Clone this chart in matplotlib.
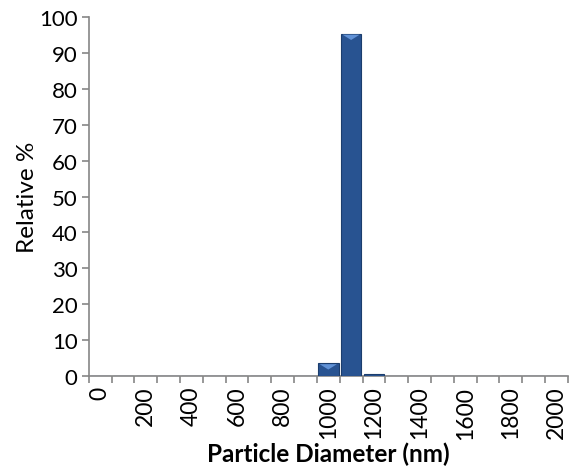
import numpy as np
import matplotlib
matplotlib.use("Agg")
from matplotlib import pyplot as plt

# particle size distribution (category axis 0..2000 nm, step 100)
diameters = list(range(0, 2001, 100))
relative = [0, 0, 0, 0, 0, 0, 0, 0, 0, 0, 3.6, 95.4, 0.5,
            0, 0, 0, 0, 0, 0, 0, 0]
tick_labels = [str(d) if d % 200 == 0 else '' for d in diameters]

plt.rcParams['font.family'] = ['Lato', 'DejaVu Sans']
axisGray = '#868686'
fs = 17.5

fig = plt.figure(figsize=(5.69, 4.77), dpi=100)
ax = fig.add_axes([0.156, 0.2096, 0.842, 0.7526])

idx = np.arange(len(diameters))
bars = ax.bar(idx, relative, width=0.9, color='#285391',
              edgecolor='#1b3d6d', linewidth=0.8, zorder=3)
# light bevel on top of each visible bar
for b, v in zip(bars, relative):
    if v <= 1:
        continue
    x0 = b.get_x()
    w = b.get_width()
    ax.fill([x0 + 0.08 * w, x0 + 0.92 * w, x0 + 0.5 * w],
            [v - 0.3, v - 0.3, v - 1.8], color='#6192d6', zorder=4, lw=0)

ax.set_xlim(-0.5, len(diameters) - 0.5)
ax.set_ylim(0, 100)
ax.set_yticks(range(0, 101, 10))
ax.set_xticks(idx)
ax.set_xticklabels(tick_labels, rotation=90, fontsize=16.5)
ax.tick_params(axis='x', length=0, pad=7)
ax.set_xticks(np.arange(-0.5, len(diameters)), minor=True)
ax.tick_params(axis='x', which='minor', length=5, color=axisGray, width=1.2)
ax.tick_params(axis='y', length=5, color=axisGray, width=1.2, labelsize=16, pad=3)

for s in ['top', 'right']:
    ax.spines[s].set_visible(False)
for s in ['left', 'bottom']:
    ax.spines[s].set_color(axisGray)
    ax.spines[s].set_linewidth(1.2)

ax.set_ylabel('Relative %', fontsize=fs, labelpad=1)
ax.set_xlabel('Particle Diameter (nm)', fontsize=fs, fontweight='bold', labelpad=2)

fig.savefig('out.png', dpi=100)
